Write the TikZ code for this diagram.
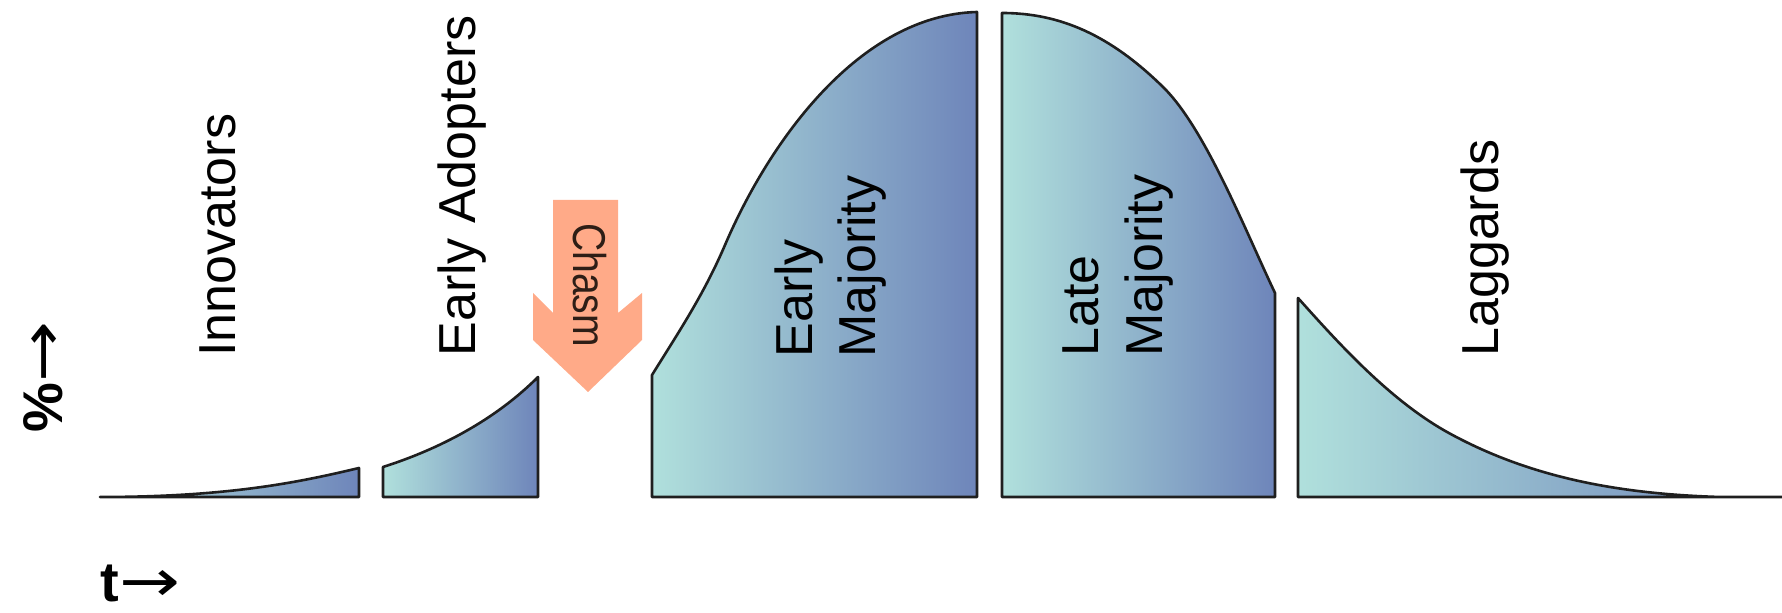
\documentclass[tikz,border=0pt]{standalone}
\usepackage{fontspec}
\setmainfont{Liberation Sans}
\newfontfamily\arrowfont{DejaVu Sans}
\definecolor{segL}{HTML}{B0E0DC}
\definecolor{segR}{HTML}{6E85BA}
\definecolor{chasmfill}{HTML}{FFAA88}
\definecolor{chasmtext}{HTML}{2E1E16}
% a thin, slightly stretched arrow for the axis labels
\newcommand{\longarr}{{\arrowfont\mdseries\scalebox{1.3}[1.05]{→}}}
\begin{document}
\begin{tikzpicture}[x=0.5pt,y=-0.5pt,
  seg/.style={draw=black!88, line width=1.3pt, line join=round,
              left color=segL, right color=segR},
  lbl/.style={rotate=90, anchor=base west, inner sep=0pt,
              font=\fontsize{26}{30}\selectfont},
  axislbl/.style={anchor=base west, inner sep=0pt,
              font=\fontsize{28}{30}\selectfont\bfseries}]
\useasboundingbox (0,0) rectangle (1782,613);

% Innovators
\path[seg] (100,497) .. controls (230,497) and (300,482) .. (359,468)
  -- (359,497) -- cycle;

% Early adopters
\path[seg] (383,497) -- (383,467)
  .. controls (430,452) and (490,425) .. (538,377)
  -- (538,497) -- cycle;

% Early majority
\path[seg] (652,497) -- (652,375)
  .. controls (680,330) and (704,294) .. (725,245)
  .. controls (770,140) and (860,15) .. (977,12)
  -- (977,497) -- cycle;

% Late majority
\path[seg] (1002,497) -- (1002,13)
  .. controls (1060,13) and (1110,35) .. (1163,87)
  .. controls (1205,128) and (1245,230) .. (1275,293)
  -- (1275,497) -- cycle;

% Laggards
\path[seg] (1298,497) -- (1298,298)
  .. controls (1340,345) and (1390,400) .. (1447,432)
  .. controls (1530,478) and (1620,494) .. (1720,497)
  -- (1782,497) -- cycle;

% Chasm arrow
\fill[chasmfill] (553,200) -- (618,200) -- (618,313) -- (642,293)
  -- (642,340) -- (588,392) -- (533,340) -- (533,293) -- (553,313) -- cycle;
\node[rotate=-90, anchor=base, inner sep=0pt, text=chasmtext,
      font=\fontsize{23}{23}\selectfont] (chasm) at (573,285)
  {\scalebox{0.85}[1]{Chasm}};

% Segment labels
\node[lbl] (innov) at (235,357) {Innovators};
\node[lbl] (adopt) at (475,357) {Early Adopters};
\node[lbl] (emaj1) at (812,358) {Early};
\node[lbl] (emaj2) at (875,358) {Majority};
\node[lbl] (lmaj1) at (1098,357) {Late};
\node[lbl] (lmaj2) at (1162,357) {Majority};
\node[lbl] (lagg) at (1498,357) {Laggards};

% Axis labels
\node[axislbl, rotate=90] (pct) at (62,433) {\%\longarr};
\node[axislbl] (time) at (100,602) {t\longarr};
\end{tikzpicture}
\end{document}
